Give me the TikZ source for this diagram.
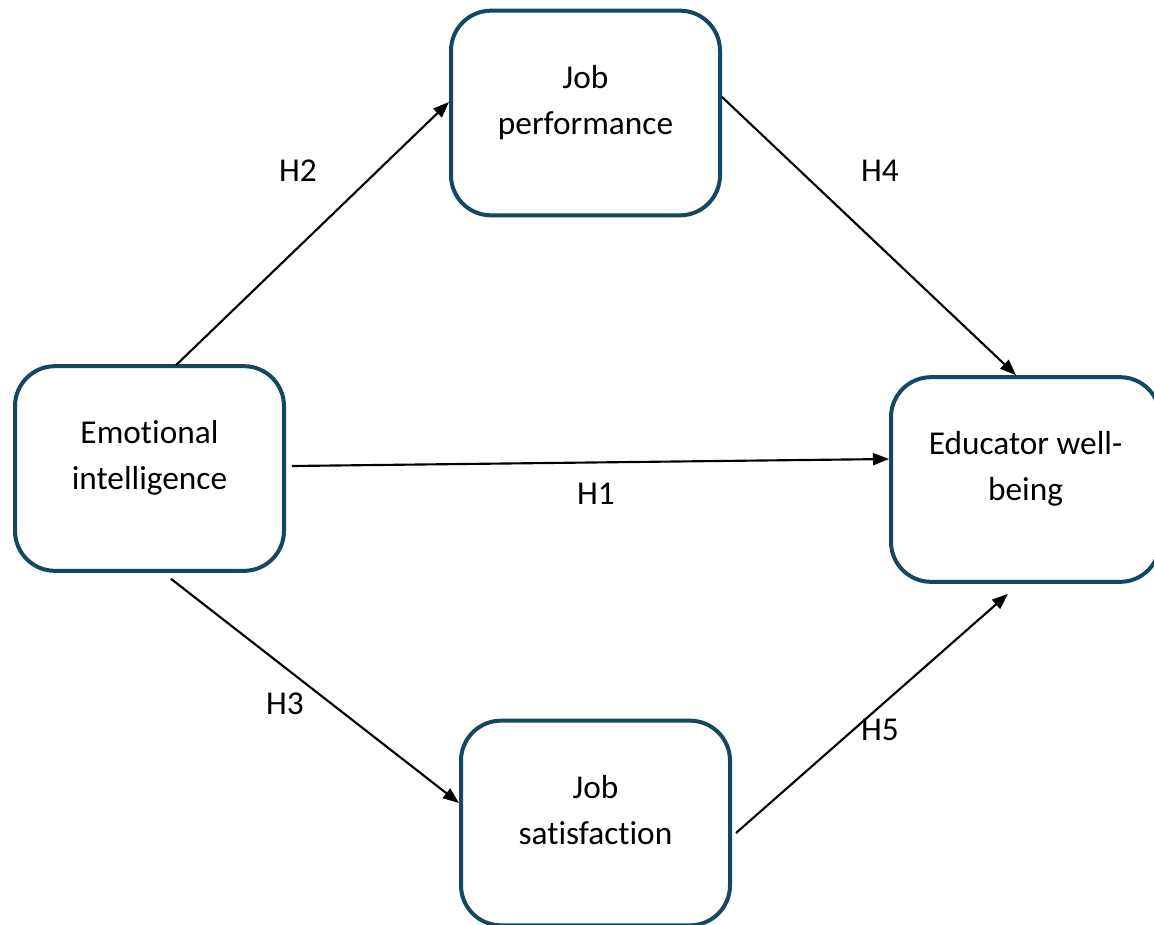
\documentclass[tikz,border=0pt]{standalone}
\usepackage{fontspec}
\setmainfont{Carlito}[Ligatures={NoCommon}]
\usetikzlibrary{calc,arrows.meta}
\definecolor{boxblue}{RGB}{20,72,98}
\tikzset{
  box/.style={draw=boxblue, line width=3pt, rounded corners=30pt, fill=white,
    minimum width=201.75pt, minimum height=153.5pt, align=center,
    font=\fontsize{25}{34.5}\selectfont, text depth=20pt, inner sep=0pt},
  conn/.style={line width=1.6pt, -{Triangle[length=12pt,width=9pt]}},
  hlab/.style={font=\fontsize{25}{30}\selectfont, inner sep=0pt}
}
\begin{document}
\begin{tikzpicture}[x=0.75pt,y=-0.75pt]
\useasboundingbox (0,0) rectangle (1154,925);
\node[box] (EI) at (149.5,468.5) {Emotional\\intelligence};
\node[box] (JP) at (585.5,113) {Job\\performance};
\node[box] (JS) at (595.5,823) {Job\\satisfaction};
\node[box] (EW) at (1025.5,479.5) {Educator well-\\being};

\draw[conn] ($(EI.north)+(26.5,1)$) -- ($(JP.west)+(0,-11)$);
\draw[conn] ($(JP.east)+(0,-16)$) -- ($(EW.north)+(-9.5,0)$);
\draw[conn] ($(EI.east)+(6,-2.5)$) -- ($(EW.west)+(0,-20.5)$);
\draw[conn] ($(EI.south)+(21.5,6)$) -- ($(JS.west)+(0,-20)$);
\draw[conn] ($(JS.east)+(4,10)$) -- ($(EW.south)+(-17.5,10)$);

\node[hlab] (h2) at (298,171) {H2};
\node[hlab] (h4) at (880,171) {H4};
\node[hlab] (h1) at (596,494) {H1};
\node[hlab] (h3) at (285,704) {H3};
\node[hlab] (h5) at (880,730) {H5};
\end{tikzpicture}
\end{document}
